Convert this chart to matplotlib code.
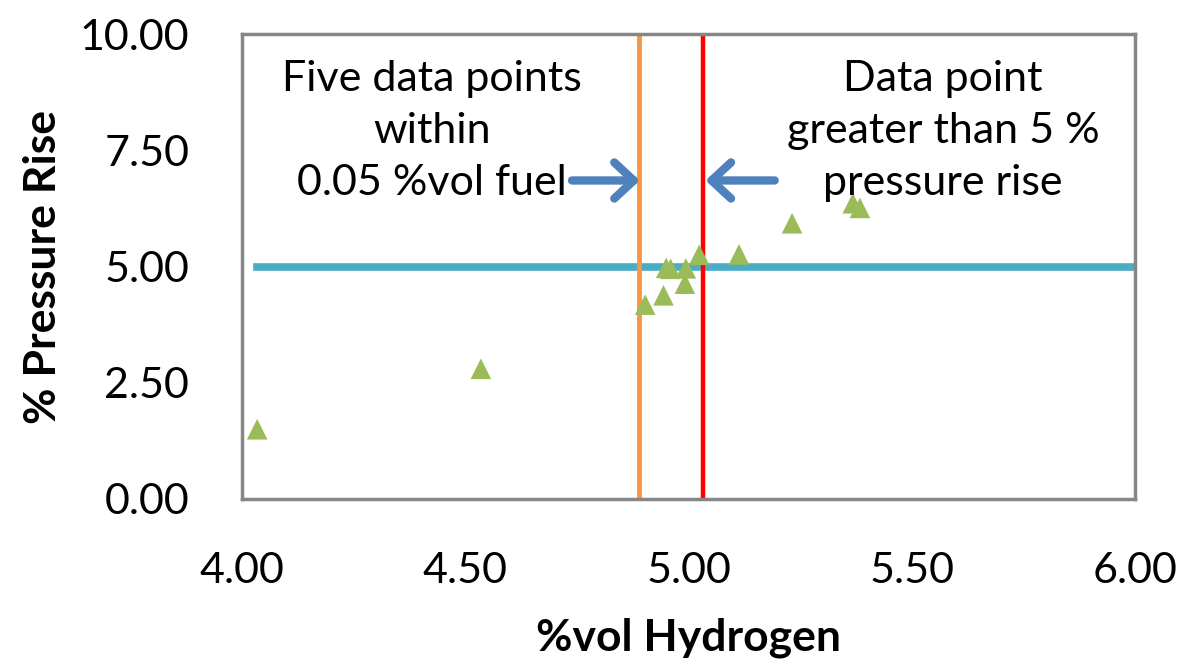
import matplotlib.pyplot as plt

# dados
hidrogenio = [4.034, 4.535, 4.903, 4.944, 4.950, 4.960, 4.992, 4.994, 5.024, 5.113, 5.232, 5.368, 5.384]
pressao = [1.50, 2.80, 4.18, 4.38, 4.97, 4.95, 4.63, 4.96, 5.25, 5.26, 5.93, 6.36, 6.26]

x_ticks = [4.00, 4.50, 5.00, 5.50, 6.00]
y_ticks = [0.00, 2.50, 5.00, 7.50, 10.00]

limite_pressao = 5.0
linha_laranja = 4.889
linha_vermelha = 5.032

plt.rcParams['font.family'] = ['Lato', 'DejaVu Sans']

fig = plt.figure(figsize=(11.88, 6.67), dpi=100)
ax = fig.add_axes([242 / 1188, 1 - 499 / 667, 893 / 1188, 465 / 667])

ax.plot([hidrogenio[0], 6.0], [limite_pressao, limite_pressao], color='#4BACC6', lw=5.5, zorder=2)
ax.plot([linha_laranja, linha_laranja], [0.05, 9.95], color='#F79646', lw=3.5, zorder=2)
ax.plot([linha_vermelha, linha_vermelha], [0.05, 9.95], color='#FF0000', lw=3.2, zorder=2)

ax.scatter(hidrogenio, pressao, marker='^', s=220, color='#9BBB59', edgecolors='none', zorder=3)

# setas azuis
seta = dict(arrowstyle='->,head_length=1.4,head_width=1.3', color='#4F81BD', lw=6,
            shrinkA=0, shrinkB=0, joinstyle='round', capstyle='round')
ax.annotate('', xy=(linha_laranja + 0.002, 6.85), xytext=(4.739, 6.85), arrowprops=seta)
ax.annotate('', xy=(linha_vermelha + 0.006, 6.85), xytext=(5.193, 6.85), arrowprops=seta)

ax.text(4.425, 7.92, 'Five data points\nwithin\n0.05 %vol fuel', ha='center', va='center',
        fontsize=31, linespacing=1.45)
ax.text(5.57, 7.92, 'Data point\ngreater than 5 %\npressure rise', ha='center', va='center',
        fontsize=31, linespacing=1.45)

ax.set_xlim(4.0, 6.0)
ax.set_ylim(0.0, 10.0)
ax.set_xticks(x_ticks)
ax.set_yticks(y_ticks)
ax.set_xticklabels(['%.2f' % v for v in x_ticks], fontsize=31)
ax.set_yticklabels(['%.2f' % v for v in y_ticks], fontsize=31)
ax.tick_params(axis='x', length=0, pad=38)
ax.tick_params(axis='y', length=0, pad=38)

for s in ax.spines.values():
    s.set_color('#868686')
    s.set_linewidth(2.5)

ax.set_xlabel('%vol Hydrogen', fontsize=32, fontweight='bold', labelpad=20)
ax.set_ylabel('% Pressure Rise', fontsize=32, fontweight='bold', labelpad=12)

fig.savefig('out.png', dpi=100)
